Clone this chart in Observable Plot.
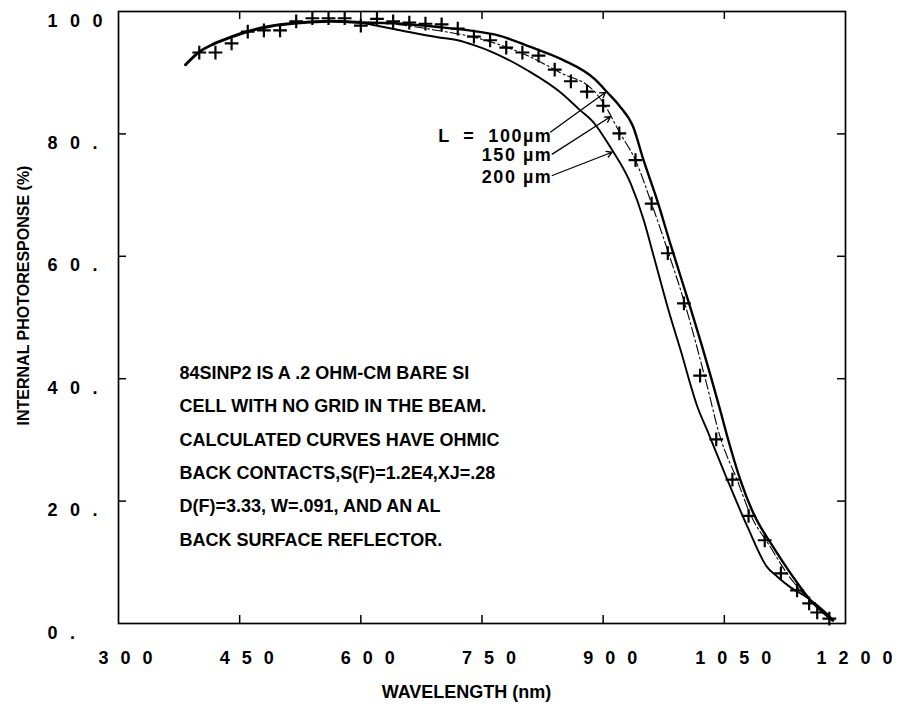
<!DOCTYPE html>
<html><head><meta charset="utf-8">
<script src="https://cdn.jsdelivr.net/npm/d3@7"></script>
<script src="https://cdn.jsdelivr.net/npm/@observablehq/plot@0.6"></script>
<style>
html,body{margin:0;padding:0;background:#fff;}
#chart svg{display:block;}
#chart text{font-family:"Liberation Sans",Arial,sans-serif;font-weight:bold;fill:#000;}
.ylbl text{letter-spacing:12.5px;}
.xlbl text{letter-spacing:12px;}
.clbl text{letter-spacing:1.5px;white-space:pre;}
</style></head><body><div id="chart"></div>
<script>
// measured points (+)
const dataWl = [400,420,440,460,480,500,520,540,560,580,600,620,640,660,680,700,720,740,760,780,800,820,840,860,880,900,920,940,960,980,1000,1020,1040,1060,1080,1100,1120,1140,1155,1165,1180];
const dataPct = [93.3,93.3,94.8,96.7,96.9,96.9,98.4,98.9,98.9,98.9,97.7,98.8,98.4,98.2,98.0,97.9,97.2,95.9,95.3,94.1,93.3,92.8,90.5,88.6,86.9,84.6,80.1,75.7,68.6,60.5,52.3,40.5,30.1,23.5,17.6,13.6,8.2,5.4,3.3,1.8,0.8];

// common part of the three calculated curves
const commonWl = [383,400,418,439,459,488,521,562,600];
const commonPct = [91.3,93.4,94.7,95.8,96.7,97.6,98.1,98.4,98.2];

// L = 100 um (outer curve)
const l100Wl = [600,650,700,740,770,810,850,890,905,920,937,950,967,983,1004,1024,1045,1054,1070,1086,1111,1132,1160,1184];
const l100Pct = [98.2,98.0,97.4,96.8,96.1,94.2,92.1,88.9,86.8,84.6,81.2,75.7,69.1,62.1,53.3,44.6,34.8,30.4,23.4,18.0,12.4,8.2,3.3,0.5];

// L = 150 um (dash-dot curve)
const l150Wl = [600,650,695,740,806,847,888,900,921,940,960,981,1001,1027,1045,1066,1082,1107,1128,1152,1177,1184];
const l150Pct = [98.2,97.8,96.9,95.8,92.8,90.0,87.1,85.1,80.1,75.7,68.6,60.5,52.3,39.7,30.4,23.4,17.9,12.5,8.1,4.3,1.3,0.5];

// L = 200 um (inner curve)
const l200Wl = [600,650,695,720,740,764,806,847,872,888,909,934,950,963,980,996,1017,1029,1054,1079,1103,1116,1132,1152,1177,1185];
const l200Pct = [98.2,96.9,95.8,95.3,94.5,93.3,90.4,86.8,83.8,81.9,77.8,71.9,66.0,59.8,51.6,44.6,35.3,31.5,23.4,15.7,9.2,7.6,5.9,4.3,1.6,0.5];

// axes
const xTickValues = [300,450,600,750,900,1050,1200];
const xTickLabels = ["300","450","600","750","900","1050","1200"];
const yTickValues = [0,20,40,60,80,100];
const yTickLabels = ["0.","20.","40.","60.","80.","100"];
const xTitle = "WAVELENGTH (nm)";
const yTitle = "INTERNAL PHOTORESPONSE (%)";

// annotations
const curveLabels = ["L  =  100\u00B5m","150 \u00B5m","200 \u00B5m"];
const labelX = [837,837,837];
const labelY = [78.6,75.6,71.9];
const arrowX1 = [835,837,837];
const arrowY1 = [80.3,76.7,73.2];
const arrowX2 = [903,909,911];
const arrowY2 = [86.8,82.8,77.0];
const noteLines = [
  "84SINP2 IS A .2 OHM-CM BARE SI",
  "CELL WITH NO GRID IN THE BEAM.",
  "CALCULATED CURVES HAVE OHMIC",
  "BACK CONTACTS,S(F)=1.2E4,XJ=.28",
  "D(F)=3.33, W=.091, AND AN AL",
  "BACK SURFACE REFLECTOR."
];
const noteX = 375.5, noteY = 12.7;

const pts = (wl, p) => wl.map((w, i) => ({wl: w, pct: p[i]}));
const points = pts(dataWl, dataPct);
const common = pts(commonWl, commonPct);
const c100 = pts(l100Wl, l100Pct);
const c150 = pts(l150Wl, l150Pct);
const c200 = pts(l200Wl, l200Pct);
const xt = xTickValues.map((v, i) => ({v, t: xTickLabels[i]}));
const yt = yTickValues.map((v, i) => ({v, t: yTickLabels[i]}));
const xInner = xTickValues.slice(1, -1);
const yInner = yTickValues.slice(1, -1);
const labels = curveLabels.map((t, i) => ({t, x: labelX[i], y: labelY[i]}));
const arrows = arrowX1.map((x1, i) => ({x1, y1: arrowY1[i], x2: arrowX2[i], y2: arrowY2[i]}));

const W = 909, H = 708, mL = 118, mR = 64, mT = 11, mB = 85;
const pw = W - mL - mR, ph = H - mT - mB;

const chart = Plot.plot({
  width: W, height: H,
  marginLeft: mL, marginRight: mR, marginTop: mT, marginBottom: mB,
  x: {domain: [300, 1200], axis: null},
  y: {domain: [0, 100], axis: null},
  marks: [
    Plot.frame({stroke: "#000", strokeWidth: 1.7}),
    Plot.tickX(xInner, {x: d => d, insetTop: ph - 8, stroke: "#000", strokeWidth: 1.5}),
    Plot.tickX(xInner, {x: d => d, insetBottom: ph - 8, stroke: "#000", strokeWidth: 1.5}),
    Plot.tickY(yInner, {y: d => d, insetRight: pw - 8, stroke: "#000", strokeWidth: 1.5}),
    Plot.tickY(yInner, {y: d => d, insetLeft: pw - 8, stroke: "#000", strokeWidth: 1.5}),
    Plot.text(yt, {y: "v", text: "t", frameAnchor: "left", textAnchor: "start", lineAnchor: "bottom", dx: -71, dy: 15, fontSize: 18, className: "ylbl"}),
    Plot.text(xt.filter(d => d.t.length === 3), {x: "v", text: "t", frameAnchor: "bottom", textAnchor: "start", lineAnchor: "bottom", dx: -20, dy: 40, fontSize: 18, className: "xlbl"}),
    Plot.text(xt.filter(d => d.t.length === 4), {x: "v", text: "t", frameAnchor: "bottom", textAnchor: "start", lineAnchor: "bottom", dx: -29, dy: 40, fontSize: 18, className: "xlbl"}),
    Plot.text([xTitle], {frameAnchor: "bottom", text: d => d, textAnchor: "middle", lineAnchor: "bottom", dx: -15.5, dy: 74, fontSize: 18}),
    Plot.text([yTitle], {frameAnchor: "left", text: d => d, textAnchor: "middle", rotate: -90, dx: -95, dy: -22, fontSize: 16}),
    Plot.line(common, {x: "wl", y: "pct", stroke: "#000", strokeWidth: 3, curve: "monotone-x"}),
    Plot.line(c100, {x: "wl", y: "pct", stroke: "#000", strokeWidth: 2.4, curve: "monotone-x"}),
    Plot.line(c150, {x: "wl", y: "pct", stroke: "#000", strokeWidth: 1.1, strokeDasharray: "10,3,2,3", curve: "monotone-x"}),
    Plot.line(c200, {x: "wl", y: "pct", stroke: "#000", strokeWidth: 1.9, curve: "monotone-x"}),
    Plot.dot(points, {x: "wl", y: "pct", symbol: "plus", r: 4.5, stroke: "#000", strokeWidth: 2.2}),
    Plot.arrow(arrows, {x1: "x1", y1: "y1", x2: "x2", y2: "y2", stroke: "#000", strokeWidth: 1.3, headLength: 7}),
    Plot.text(labels, {x: "x", y: "y", text: "t", textAnchor: "end", lineAnchor: "bottom", fontSize: 18, className: "clbl"}),
    Plot.text([noteLines.join("\n")], {x: () => noteX, y: () => noteY, text: d => d, textAnchor: "start", lineAnchor: "bottom", lineHeight: 1.856, fontSize: 18})
  ]
});
document.getElementById("chart").appendChild(chart);
</script></body></html>
